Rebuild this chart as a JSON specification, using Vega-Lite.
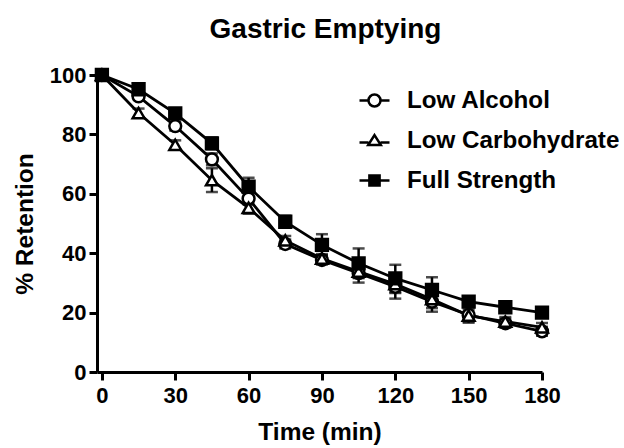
{
  "$schema": "https://vega.github.io/schema/vega-lite/v6.json",
  "autosize": "none",
  "width": 445,
  "height": 297,
  "padding": {"left": 97, "top": 75, "right": 82, "bottom": 76},
  "title": {"text": "Gastric Emptying", "font": "Liberation Sans", "fontSize": 28, "fontWeight": "bold", "color": "black", "offset": 20, "anchor": "middle", "dx": 6},
  "config": {"view": {"stroke": null}, "font": "Liberation Sans"},
  "data": {"values": [
    {"group": "Low Alcohol", "time": 0, "mean": 100, "sem": 0},
    {"group": "Low Alcohol", "time": 15, "mean": 92.8, "sem": 1},
    {"group": "Low Alcohol", "time": 30, "mean": 82.8, "sem": 1.5},
    {"group": "Low Alcohol", "time": 45, "mean": 71.6, "sem": 2},
    {"group": "Low Alcohol", "time": 60, "mean": 58.4, "sem": 2},
    {"group": "Low Alcohol", "time": 75, "mean": 43.1, "sem": 1.5},
    {"group": "Low Alcohol", "time": 90, "mean": 37.7, "sem": 1.5},
    {"group": "Low Alcohol", "time": 105, "mean": 33.3, "sem": 3.2},
    {"group": "Low Alcohol", "time": 120, "mean": 28.7, "sem": 4},
    {"group": "Low Alcohol", "time": 135, "mean": 23.7, "sem": 3.4},
    {"group": "Low Alcohol", "time": 150, "mean": 19.2, "sem": 2.6},
    {"group": "Low Alcohol", "time": 165, "mean": 16.4, "sem": 1.5},
    {"group": "Low Alcohol", "time": 180, "mean": 13.7, "sem": 1.5},
    {"group": "Low Carbohydrate", "time": 0, "mean": 100, "sem": 0},
    {"group": "Low Carbohydrate", "time": 15, "mean": 87.2, "sem": 1.5},
    {"group": "Low Carbohydrate", "time": 30, "mean": 76.5, "sem": 1.5},
    {"group": "Low Carbohydrate", "time": 45, "mean": 64.6, "sem": 4},
    {"group": "Low Carbohydrate", "time": 60, "mean": 55.3, "sem": 2},
    {"group": "Low Carbohydrate", "time": 75, "mean": 44.3, "sem": 1.5},
    {"group": "Low Carbohydrate", "time": 90, "mean": 38.2, "sem": 1.5},
    {"group": "Low Carbohydrate", "time": 105, "mean": 33.8, "sem": 2},
    {"group": "Low Carbohydrate", "time": 120, "mean": 29.6, "sem": 3},
    {"group": "Low Carbohydrate", "time": 135, "mean": 24.5, "sem": 3},
    {"group": "Low Carbohydrate", "time": 150, "mean": 19.0, "sem": 2},
    {"group": "Low Carbohydrate", "time": 165, "mean": 17.0, "sem": 1.5},
    {"group": "Low Carbohydrate", "time": 180, "mean": 15.0, "sem": 1.5},
    {"group": "Full Strength", "time": 0, "mean": 100, "sem": 0},
    {"group": "Full Strength", "time": 15, "mean": 95.2, "sem": 1},
    {"group": "Full Strength", "time": 30, "mean": 87.1, "sem": 1.5},
    {"group": "Full Strength", "time": 45, "mean": 77.0, "sem": 2},
    {"group": "Full Strength", "time": 60, "mean": 62.4, "sem": 3},
    {"group": "Full Strength", "time": 75, "mean": 50.6, "sem": 2},
    {"group": "Full Strength", "time": 90, "mean": 42.8, "sem": 3.6},
    {"group": "Full Strength", "time": 105, "mean": 36.6, "sem": 5},
    {"group": "Full Strength", "time": 120, "mean": 31.5, "sem": 4.6},
    {"group": "Full Strength", "time": 135, "mean": 27.6, "sem": 4.3},
    {"group": "Full Strength", "time": 150, "mean": 23.7, "sem": 1.5},
    {"group": "Full Strength", "time": 165, "mean": 21.8, "sem": 1.5},
    {"group": "Full Strength", "time": 180, "mean": 20.0, "sem": 1.5}
  ]},
  "encoding": {
    "x": {"field": "time", "type": "quantitative",
      "scale": {"domain": [-2, 180], "nice": false, "zero": false},
      "axis": {"values": [0, 30, 60, 90, 120, 150, 180], "title": "Time (min)", "grid": false,
        "domainColor": "black", "domainWidth": 3, "tickColor": "black", "tickWidth": 3, "tickSize": 8,
        "labelFont": "Liberation Sans", "labelFontSize": 22, "labelFontWeight": "bold", "labelColor": "black", "labelPadding": 5, "labelFlush": false,
        "titleFont": "Liberation Sans", "titleFontSize": 24.5, "titleFontWeight": "bold", "titleColor": "black", "titlePadding": 14}},
    "y": {"field": "mean", "type": "quantitative",
      "scale": {"domain": [0, 100], "nice": false},
      "axis": {"values": [0, 20, 40, 60, 80, 100], "title": "% Retention", "grid": false,
        "domainColor": "black", "domainWidth": 3, "tickColor": "black", "tickWidth": 3, "tickSize": 8,
        "labelFont": "Liberation Sans", "labelFontSize": 22, "labelFontWeight": "bold", "labelColor": "black", "labelPadding": 3, "labelFlush": false,
        "titleFont": "Liberation Sans", "titleFontSize": 24.5, "titleFontWeight": "bold", "titleColor": "black", "titlePadding": 12}}
  },
  "layer": [
    {
      "mark": {"type": "errorbar", "ticks": {"size": 12, "thickness": 2.5, "color": "black"}, "rule": {"strokeWidth": 2.5, "color": "black"}},
      "encoding": {
        "yError": {"field": "sem"},
        "detail": {"field": "group"}
      }
    },
    {
      "mark": {"type": "line", "color": "black", "strokeWidth": 2.8},
      "encoding": {"detail": {"field": "group"}}
    },
    {
      "mark": {"type": "point", "stroke": "black", "strokeWidth": 2.5, "size": 140, "opacity": 1, "fillOpacity": 1},
      "encoding": {
        "shape": {"field": "group", "type": "nominal",
          "scale": {"domain": ["Low Alcohol", "Low Carbohydrate", "Full Strength"], "range": ["circle", "triangle-up", "square"]},
          "legend": null},
        "fill": {"field": "group", "type": "nominal",
          "scale": {"domain": ["Low Alcohol", "Low Carbohydrate", "Full Strength"], "range": ["white", "white", "black"]},
          "legend": null}
      }
    },
    {
      "mark": {"type": "point", "opacity": 0, "strokeWidth": 2.5},
      "encoding": {
        "shape": {"field": "group", "type": "nominal",
          "scale": {"domain": ["Low Alcohol", "Low Carbohydrate", "Full Strength"], "range": ["M-1,0H-0.43M0.43,0H1M-0.4,0A0.4,0.4 0 1,1 0.4,0A0.4,0.4 0 1,1 -0.4,0Z", "M-1,0.14H-0.4M0.4,0.14H1M0,-0.36L0.42,0.3H-0.42Z", "M-1,0H1M-0.34,-0.34H0.34V0.34H-0.34Z"]},
          "legend": {"title": null, "orient": "none", "legendX": 261, "legendY": 9,
            "symbolSize": 900, "symbolStrokeWidth": 2.5, "symbolOpacity": 1,
            "labelFont": "Liberation Sans", "labelFontSize": 24.2, "labelFontWeight": "bold", "labelColor": "black", "labelOffset": 16, "labelLimit": 400, "rowPadding": 11}},
        "fill": {"field": "group", "type": "nominal",
          "scale": {"domain": ["Low Alcohol", "Low Carbohydrate", "Full Strength"], "range": ["white", "white", "black"]},
          "legend": {"title": null, "orient": "none", "legendX": 261, "legendY": 9,
            "symbolSize": 900, "symbolStrokeWidth": 2.5, "symbolOpacity": 1,
            "labelFont": "Liberation Sans", "labelFontSize": 24.2, "labelFontWeight": "bold", "labelColor": "black", "labelOffset": 16, "labelLimit": 400, "rowPadding": 11}},
        "stroke": {"field": "group", "type": "nominal",
          "scale": {"domain": ["Low Alcohol", "Low Carbohydrate", "Full Strength"], "range": ["black", "black", "black"]},
          "legend": {"title": null, "orient": "none", "legendX": 261, "legendY": 9,
            "symbolSize": 900, "symbolStrokeWidth": 2.5, "symbolOpacity": 1,
            "labelFont": "Liberation Sans", "labelFontSize": 24.2, "labelFontWeight": "bold", "labelColor": "black", "labelOffset": 16, "labelLimit": 400, "rowPadding": 11}}
      }
    }
  ],
  "resolve": {"scale": {"shape": "independent", "fill": "independent", "stroke": "independent"}}
}
